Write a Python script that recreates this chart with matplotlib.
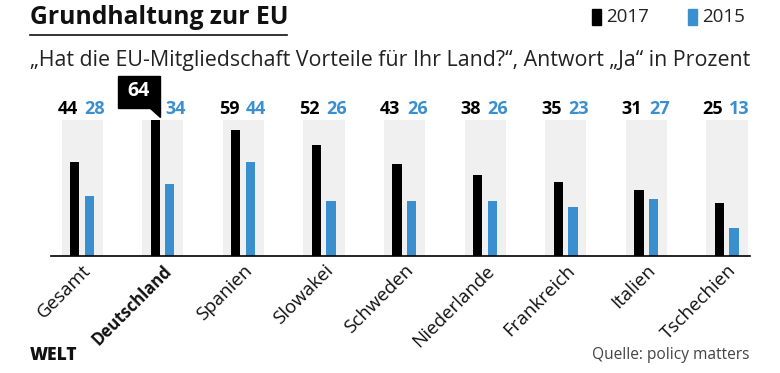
import matplotlib.pyplot as plt
import numpy as np
from matplotlib.patches import Rectangle, Polygon

plt.rcParams['font.family'] = ['Open Sans', 'DejaVu Sans']

laender = ["Gesamt", "Deutschland", "Spanien", "Slowakei", "Schweden",
           "Niederlande", "Frankreich", "Italien", "Tschechien"]
ja_2017 = [44, 64, 59, 52, 43, 38, 35, 31, 25]
ja_2015 = [28, 34, 44, 26, 26, 26, 23, 27, 13]

schwarz = "#000000"
blau = "#3a8fcf"
grau = "#f0f0f0"

fig = plt.figure(figsize=(7.8, 3.73), dpi=100)
ax = fig.add_axes([0.065, 0.3137, 0.8965, 0.445])

x = np.arange(len(laender))
ax.bar(x, [max(ja_2017)] * len(x), width=0.51, color=grau, zorder=1)
ax.bar(x - 0.093, ja_2017, width=0.115, color=schwarz, zorder=2)
ax.bar(x + 0.088, ja_2015, width=0.115, color=blau, zorder=2)

ax.set_xlim(-0.39, 8.285)
ax.set_ylim(0, 78)
for s in ["top", "right", "left"]:
    ax.spines[s].set_visible(False)
ax.spines["bottom"].set_linewidth(1.2)
ax.set_yticks([])
ax.set_xticks(x)
ax.tick_params(axis="x", length=0, pad=4)
ax.set_xticklabels(laender, rotation=45, ha="right", rotation_mode="anchor",
                   fontsize=13.5, color="#111111")
ax.get_xticklabels()[1].set_fontweight("bold")
ax.get_xticklabels()[1].set_fontsize(12)

# Werte über den Säulen
ywert = 69.0
for i in range(len(laender)):
    if i == 1:
        continue
    ax.text(i - 0.05, ywert, str(ja_2017[i]), ha="right", va="center",
            fontsize=13, fontweight="bold", color=schwarz)
    ax.text(i + 0.03, ywert, str(ja_2015[i]), ha="left", va="center",
            fontsize=13, fontweight="bold", color=blau)

# Deutschland hervorgehoben (Sprechblase)
ax.text(1 + 0.03, ywert, str(ja_2015[1]), ha="left", va="center",
        fontsize=13, fontweight="bold", color=blau)
ax.add_patch(Rectangle((0.44, 69.5), 0.525, 15, color=schwarz,
                       clip_on=False, zorder=3))
ax.add_patch(Polygon([[0.84, 69.6], [0.965, 69.6], [0.965, 65.3]], closed=True,
                     color=schwarz, clip_on=False, zorder=3))
ax.text(0.705, 77.3, str(ja_2017[1]), ha="center", va="center", fontsize=14,
        fontweight="bold", color="white", zorder=4)

# Kopf
fig.text(0.0385, 0.952, "Grundhaltung zur EU", ha="left", va="center",
         fontsize=17.8, fontweight="bold", color="#111111")
fig.add_artist(plt.Line2D([0.0385, 0.368], [0.906, 0.906], color="#111111",
                          linewidth=1.2))
fig.text(0.0385, 0.838,
         "\u201eHat die EU-Mitgliedschaft Vorteile für Ihr Land?\u201c, Antwort \u201eJa\u201c in Prozent",
         ha="left", va="center", fontsize=15.4, color="#222222")

# Legende
fig.add_artist(Rectangle((591.7 / 780, 1 - 25 / 373), 9 / 780, 16 / 373,
                         color=schwarz, transform=fig.transFigure))
fig.text(606 / 780, 1 - 17 / 373, "2017", ha="left", va="center",
         fontsize=13.5, color="#222222")
fig.add_artist(Rectangle((687.7 / 780, 1 - 25 / 373), 9 / 780, 16 / 373,
                         color=blau, transform=fig.transFigure))
fig.text(702 / 780, 1 - 17 / 373, "2015", ha="left", va="center",
         fontsize=13.5, color="#222222")

# Fuß
fig.text(0.0385, 1 - 355 / 373, "WELT", ha="left", va="center",
         fontsize=12.5, fontweight="heavy", color="#111111")
fig.text(750 / 780, 1 - 355 / 373, "Quelle: policy matters", ha="right",
         va="center", fontsize=11.2, color="#444444")

fig.savefig("out.png", dpi=100)
